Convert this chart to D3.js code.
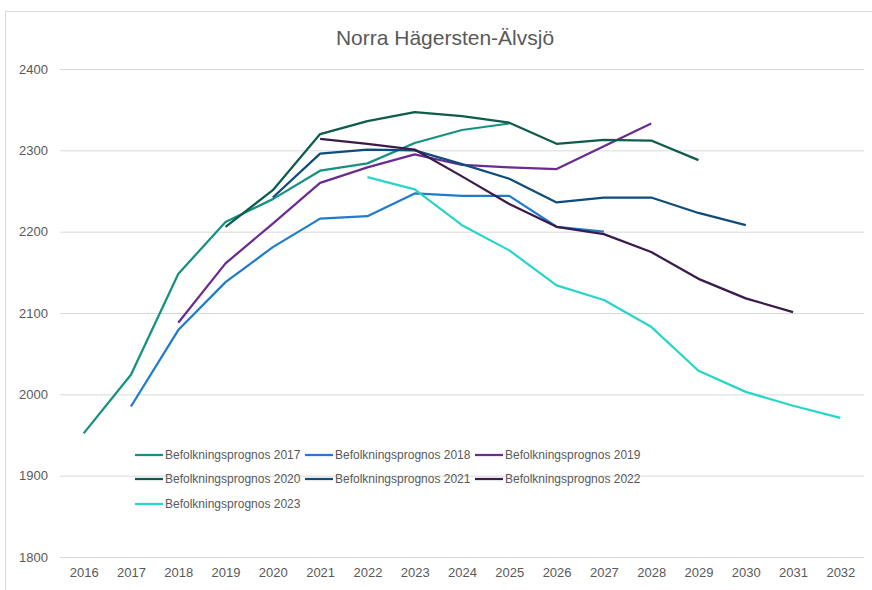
<!DOCTYPE html>
<html>
<head>
<meta charset="utf-8">
<script src="https://cdn.jsdelivr.net/npm/d3@7"></script>
<style>
  body { margin: 0; background: #fff; }
  svg { display: block; font-family: "Liberation Sans", Arial, sans-serif; }
</style>
</head>
<body>
<svg id="chart" width="872" height="590"></svg>
<script>
// Data
const years = [2016, 2017, 2018, 2019, 2020, 2021, 2022, 2023, 2024, 2025, 2026, 2027, 2028, 2029, 2030, 2031, 2032];
const yTicks = [1800, 1900, 2000, 2100, 2200, 2300, 2400];

const prognos2017 = [[2016, 1952], [2017, 2024], [2018, 2148], [2019, 2212], [2020, 2240], [2021, 2275], [2022, 2284], [2023, 2309], [2024, 2325], [2025, 2333]];
const prognos2018 = [[2017, 1985], [2018, 2079], [2019, 2138], [2020, 2181], [2021, 2216], [2022, 2219], [2023, 2247], [2024, 2244], [2025, 2244], [2026, 2206], [2027, 2200]];
const prognos2019 = [[2018, 2088], [2019, 2161], [2020, 2210], [2021, 2260], [2022, 2279], [2023, 2295], [2024, 2282], [2025, 2279], [2026, 2277], [2027, 2305], [2028, 2333]];
const prognos2020 = [[2019, 2206], [2020, 2251], [2021, 2320], [2022, 2336], [2023, 2347], [2024, 2342], [2025, 2334], [2026, 2308], [2027, 2313], [2028, 2312], [2029, 2288]];
const prognos2021 = [[2020, 2242], [2021, 2296], [2022, 2301], [2023, 2300], [2024, 2283], [2025, 2265], [2026, 2236], [2027, 2242], [2028, 2242], [2029, 2223], [2030, 2208]];
const prognos2022 = [[2021, 2314], [2022, 2308], [2023, 2301], [2024, 2268], [2025, 2234], [2026, 2206], [2027, 2197], [2028, 2175], [2029, 2142], [2030, 2118], [2031, 2101]];
const prognos2023 = [[2022, 2267], [2023, 2252], [2024, 2208], [2025, 2177], [2026, 2134], [2027, 2116], [2028, 2083], [2029, 2029], [2030, 2003], [2031, 1986], [2032, 1971]];

const series = [
    { name: "Befolkningsprognos 2017", color: "#17917f", values: prognos2017 },
    { name: "Befolkningsprognos 2018", color: "#1f7bcc", values: prognos2018 },
    { name: "Befolkningsprognos 2019", color: "#6a2d8f", values: prognos2019 },
    { name: "Befolkningsprognos 2020", color: "#0f5c4c", values: prognos2020 },
    { name: "Befolkningsprognos 2021", color: "#0e4c7c", values: prognos2021 },
    { name: "Befolkningsprognos 2022", color: "#3a1b4c", values: prognos2022 },
    { name: "Befolkningsprognos 2023", color: "#28d6c9", values: prognos2023 }
];

const svg = d3.select("#chart");
const textColor = "#595959";

// Chart frame (top and left edges visible)
svg.append("line").attr("x1", 5).attr("x2", 872).attr("y1", 11.5).attr("y2", 11.5)
    .attr("stroke", "#d9d9d9").attr("stroke-width", 1);
svg.append("line").attr("x1", 5.5).attr("x2", 5.5).attr("y1", 11).attr("y2", 590)
    .attr("stroke", "#d9d9d9").attr("stroke-width", 1);

// Title
svg.append("text")
    .attr("x", 445)
    .attr("y", 45)
    .attr("text-anchor", "middle")
    .attr("fill", textColor)
    .style("font-size", "21px")
    .text("Norra Hägersten-Älvsjö");

const margin = { left: 60, right: 864, top: 69, bottom: 557 };

const xScale = d3.scalePoint()
    .domain(years)
    .range([margin.left, margin.right])
    .padding(0.5);

const yScale = d3.scaleLinear()
    .domain([1800, 2400])
    .range([margin.bottom, margin.top]);

// Gridlines
const yAxis = d3.axisLeft(yScale)
    .tickValues(yTicks)
    .tickSize(-(margin.right - margin.left))
    .tickPadding(12)
    .tickFormat(d3.format("d"));

const gy = svg.append("g")
    .attr("transform", `translate(${margin.left},0)`)
    .call(yAxis);
gy.select(".domain").remove();
gy.selectAll(".tick line").attr("stroke", "#d9d9d9").attr("stroke-width", 1);
gy.selectAll(".tick text")
    .attr("fill", textColor)
    .style("font-size", "13px")
    .style("font-family", "Liberation Sans, Arial, sans-serif");

// X axis labels
const xAxis = d3.axisBottom(xScale).tickSize(0).tickPadding(11);
const gx = svg.append("g")
    .attr("transform", `translate(0,${margin.bottom})`)
    .call(xAxis);
gx.select(".domain").remove();
gx.selectAll(".tick text")
    .attr("fill", textColor)
    .style("font-size", "13px")
    .style("font-family", "Liberation Sans, Arial, sans-serif");

// Lines
const line = d3.line()
    .x(d => xScale(d[0]))
    .y(d => yScale(d[1]));

series.forEach(s => {
    svg.append("path")
        .datum(s.values)
        .attr("fill", "none")
        .attr("stroke", s.color)
        .attr("stroke-width", 2.25)
        .attr("stroke-linejoin", "round")
        .attr("d", line);
});

// Legend
const legendCols = [135, 305, 475];
const legendRows = [455, 479, 504];
series.forEach((s, i) => {
    const x = legendCols[i % 3];
    const y = legendRows[Math.floor(i / 3)];
    const g = svg.append("g").attr("transform", `translate(${x},${y})`);
    g.append("line")
        .attr("x1", 0).attr("x2", 28)
        .attr("y1", 0).attr("y2", 0)
        .attr("stroke", s.color)
        .attr("stroke-width", 2.25);
    g.append("text")
        .attr("x", 30)
        .attr("y", 0)
        .attr("dy", "0.35em")
        .attr("fill", textColor)
        .style("font-size", "12px")
        .text(s.name);
});
</script>
</body>
</html>
